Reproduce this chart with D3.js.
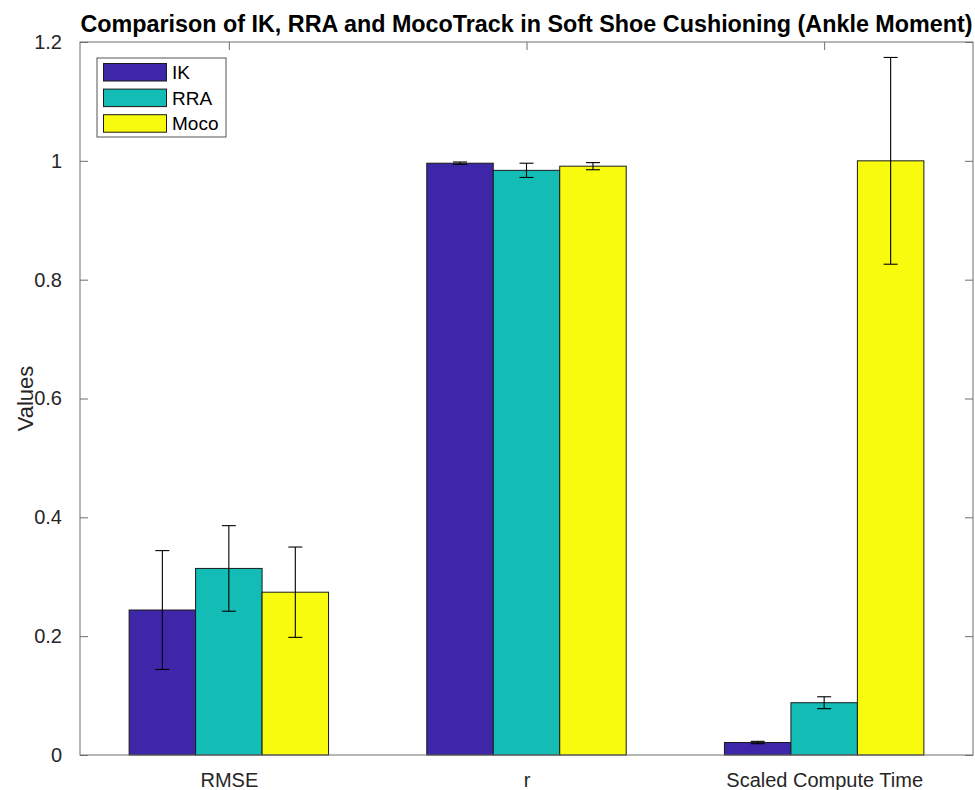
<!DOCTYPE html>
<html>
<head>
<meta charset="utf-8">
<script src="https://cdn.jsdelivr.net/npm/d3@7"></script>
<style>
  html, body { margin: 0; padding: 0; background: #fff; }
  svg { display: block; font-family: "Liberation Sans", Arial, Helvetica, sans-serif; }
</style>
</head>
<body>
<svg id="chart" width="975" height="790"></svg>
<script>
const categories = ["RMSE", "r", "Scaled Compute Time"];
const seriesNames = ["IK", "RRA", "Moco"];
const ikValues   = [0.244, 0.996, 0.021];
const rraValues  = [0.314, 0.984, 0.088];
const mocoValues = [0.274, 0.991, 1.000];
const ikErrors   = [0.100, 0.002, 0.002];
const rraErrors  = [0.072, 0.012, 0.010];
const mocoErrors = [0.076, 0.006, 0.174];
const yTicks = [0, 0.2, 0.4, 0.6, 0.8, 1, 1.2];
const seriesColors = ["#3e26a8", "#13bdb6", "#f9fb0e"];
const titleText = "Comparison of IK, RRA and MocoTrack in Soft Shoe Cushioning (Ankle Moment)";

const valuesBySeries = [ikValues, rraValues, mocoValues];
const errorsBySeries = [ikErrors, rraErrors, mocoErrors];

const svg = d3.select("#chart");
const m = { left: 80, right: 973, top: 42, bottom: 755 };
const axisColor = "#6e6e6e";
const textColor = "#262626";

const x = d3.scaleLinear().domain([0.5, 3.5]).range([m.left, m.right]);
const y = d3.scaleLinear().domain([0, 1.2]).range([m.bottom, m.top]);
const inner = d3.scaleBand().domain(seriesNames).range([-0.335, 0.335]).padding(0);

const bars = [];
seriesNames.forEach((s, si) => {
  categories.forEach((c, ci) => {
    bars.push({ s, si, ci, v: valuesBySeries[si][ci], e: errorsBySeries[si][ci] });
  });
});

// Bars
svg.append("g").selectAll("rect").data(bars).join("rect")
  .attr("x", d => x(ci1(d) + inner(d.s)))
  .attr("width", d => x(ci1(d) + inner(d.s) + inner.bandwidth()) - x(ci1(d) + inner(d.s)))
  .attr("y", d => y(d.v))
  .attr("height", d => y(0) - y(d.v))
  .attr("fill", d => seriesColors[d.si])
  .attr("stroke", "#1a1a1a")
  .attr("stroke-width", 1);

function ci1(d) { return d.ci + 1; }

// Error bars
const capHalf = 7;
const eb = svg.append("g").attr("stroke", "#000").attr("stroke-width", 1.1);
bars.forEach(d => {
  const cx = x(ci1(d) + inner(d.s) + inner.bandwidth() / 2);
  eb.append("line").attr("x1", cx).attr("x2", cx).attr("y1", y(d.v - d.e)).attr("y2", y(d.v + d.e));
  eb.append("line").attr("x1", cx - capHalf).attr("x2", cx + capHalf).attr("y1", y(d.v + d.e)).attr("y2", y(d.v + d.e));
  eb.append("line").attr("x1", cx - capHalf).attr("x2", cx + capHalf).attr("y1", y(d.v - d.e)).attr("y2", y(d.v - d.e));
});

// Axes box
const tickLen = 8;
const box = svg.append("g");
box.append("rect").attr("x", m.left).attr("y", m.top).attr("width", m.right - m.left).attr("height", m.bottom - m.top)
  .attr("fill", "none").attr("stroke", axisColor).attr("stroke-width", 1);

// Y axis left (ticks inward)
const yAxisL = d3.axisLeft(y).tickValues(yTicks).tickSize(-tickLen).tickPadding(10 + tickLen).tickFormat(d3.format("~g"));
const gyl = svg.append("g").attr("transform", `translate(${m.left},0)`).call(yAxisL);
gyl.select(".domain").remove();
gyl.selectAll(".tick line").attr("stroke", axisColor);
gyl.selectAll(".tick text").attr("fill", textColor).style("font-size", "20px");

// Y axis right ticks
const yAxisR = d3.axisRight(y).tickValues(yTicks).tickSize(-tickLen).tickFormat("");
const gyr = svg.append("g").attr("transform", `translate(${m.right},0)`).call(yAxisR);
gyr.select(".domain").remove();
gyr.selectAll(".tick line").attr("stroke", axisColor);

// X axis bottom
const xAxisB = d3.axisBottom(x).tickValues([1, 2, 3]).tickSize(-tickLen).tickPadding(10 + tickLen)
  .tickFormat((d, i) => categories[i]);
const gxb = svg.append("g").attr("transform", `translate(0,${m.bottom})`).call(xAxisB);
gxb.select(".domain").remove();
gxb.selectAll(".tick line").attr("stroke", "none");
gxb.selectAll(".tick text").attr("fill", textColor).style("font-size", "20px");

// X axis top ticks
const xAxisT = d3.axisTop(x).tickValues([1, 2, 3]).tickSize(-tickLen).tickFormat("");
const gxt = svg.append("g").attr("transform", `translate(0,${m.top})`).call(xAxisT);
gxt.select(".domain").remove();
gxt.selectAll(".tick line").attr("stroke", axisColor);

// Y label
svg.append("text")
  .attr("transform", `translate(33,${(m.top + m.bottom) / 2}) rotate(-90)`)
  .attr("text-anchor", "middle")
  .attr("fill", textColor)
  .style("font-size", "22px")
  .text("Values");

// Title
const title = svg.append("text")
  .attr("x", (m.left + m.right) / 2)
  .attr("y", 32)
  .attr("text-anchor", "middle")
  .attr("fill", "#000")
  .style("font-size", "22px")
  .style("font-weight", "bold")
  .text(titleText);
const tl = title.node().getComputedTextLength();
const targetW = 892;
if (Math.abs(tl - targetW) > 4) title.style("font-size", (22 * targetW / tl).toFixed(2) + "px");

// Legend
const lg = svg.append("g");
lg.append("rect").attr("x", 97).attr("y", 58).attr("width", 129).attr("height", 79)
  .attr("fill", "#fff").attr("stroke", "#555").attr("stroke-width", 1);
seriesNames.forEach((s, i) => {
  const yy = 63.5 + i * 25.6;
  lg.append("rect").attr("x", 103.5).attr("y", yy).attr("width", 63).attr("height", 17.5)
    .attr("fill", seriesColors[i]).attr("stroke", "#1a1a1a").attr("stroke-width", 1);
  lg.append("text").attr("x", 172).attr("y", yy + 15.5)
    .attr("fill", "#000").style("font-size", "19px").text(s);
});
</script>
</body>
</html>
